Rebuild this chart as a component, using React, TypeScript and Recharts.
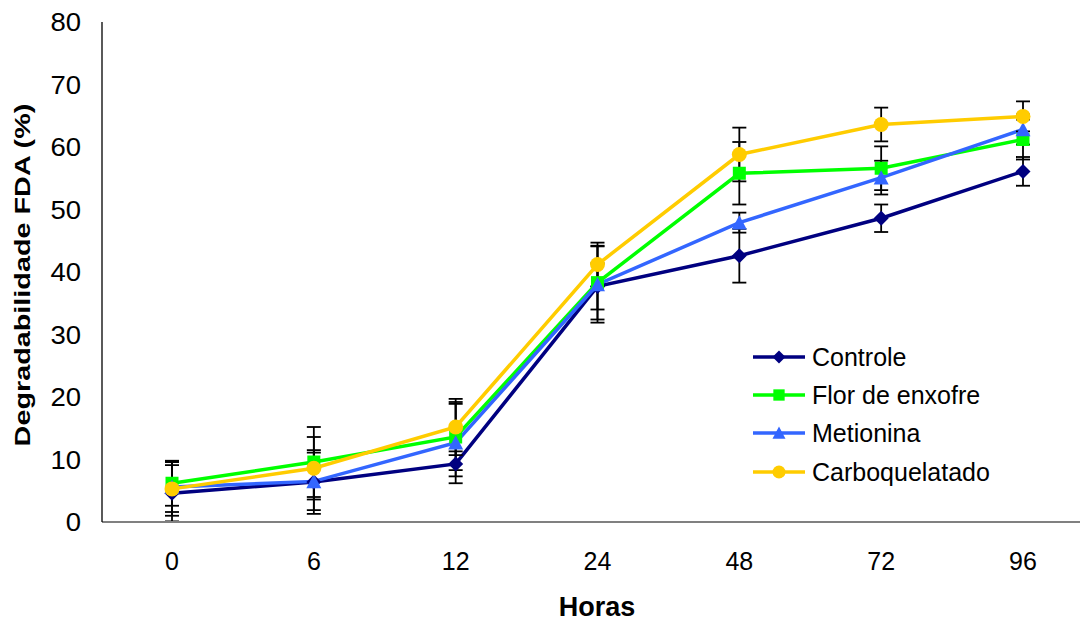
import React from 'react';
import { LineChart, Line, XAxis, YAxis, ErrorBar, Legend } from 'recharts';

const hours = ['0', '6', '12', '24', '48', '72', '96'];

const controle = [4.6, 6.4, 9.3, 37.7, 42.6, 48.6, 56.1];
const controleErr = [4.5, 5.1, 2.0, 3.7, 4.3, 2.2, 2.3];

const florEnxofre = [6.2, 9.6, 13.6, 38.3, 55.8, 56.6, 61.2];
const florEnxofreErr = [3.6, 5.6, 5.3, 5.9, 5.0, 3.5, 3.2];

const metionina = [5.6, 6.5, 12.7, 38.0, 47.9, 55.1, 62.8];
const metioninaErr = [4.0, 4.6, 6.5, 6.1, 1.6, 2.7, 2.4];

const carboquelatado = [5.3, 8.6, 15.2, 41.2, 58.8, 63.6, 64.9];
const carboquelatadoErr = [4.3, 5.0, 4.5, 3.5, 4.3, 2.7, 2.4];

const yTicks = [0, 10, 20, 30, 40, 50, 60, 70, 80];

const series = [
  { key: 'controle', name: 'Controle', color: '#000080', shape: 'diamond' },
  { key: 'flor', name: 'Flor de enxofre', color: '#00FF00', shape: 'square' },
  { key: 'met', name: 'Metionina', color: '#3366FF', shape: 'triangle' },
  { key: 'carbo', name: 'Carboquelatado', color: '#FFCC00', shape: 'circle' },
];

const data = hours.map((h, i) => ({
  hora: h,
  controle: controle[i],
  controleErr: controleErr[i],
  flor: florEnxofre[i],
  florErr: florEnxofreErr[i],
  met: metionina[i],
  metErr: metioninaErr[i],
  carbo: carboquelatado[i],
  carboErr: carboquelatadoErr[i],
}));

const FONT = '"Liberation Sans", Arial, Helvetica, sans-serif';

function Marker({ shape, cx, cy, color, k = 1 }: any) {
  if (cx == null || cy == null) return null;
  if (shape === 'diamond') {
    const w = 7.5 * k, h = 7.5 * k;
    return <polygon points={`${cx},${cy - h} ${cx + w},${cy} ${cx},${cy + h} ${cx - w},${cy}`} fill={color} />;
  }
  if (shape === 'square') {
    const s = 6.5 * k;
    return <rect x={cx - s} y={cy - s} width={2 * s} height={2 * s} fill={color} />;
  }
  if (shape === 'triangle') {
    const w = 7.5 * k, h = 7.5 * k;
    return <polygon points={`${cx},${cy - h} ${cx + w},${cy + h * 0.9} ${cx - w},${cy + h * 0.9}`} fill={color} />;
  }
  return <circle cx={cx} cy={cy} r={7.5 * k} fill={color} />;
}

function LegendBox() {
  const rowY = [22, 60, 98, 137];
  return (
    <div style={{ position: 'relative', width: 0, height: 0, overflow: 'visible' }}>
      <svg width={320} height={165} style={{ position: 'absolute', left: 0, top: 0, overflow: 'visible' }}>
        {series.map((s, i) => (
          <g key={s.key}>
            <line x1={8} x2={60} y1={rowY[i]} y2={rowY[i]} stroke={s.color} strokeWidth={3.5} />
            <Marker shape={s.shape} cx={34} cy={rowY[i]} color={s.color} k={0.87} />
            <text x={67} y={rowY[i] + 9} fontSize={25} fontFamily={FONT} fill="#000">
              {s.name}
            </text>
          </g>
        ))}
      </svg>
    </div>
  );
}

function YTitle() {
  return (
    <text
      transform="translate(22.5,275) rotate(-90) scale(1.28,1)"
      textAnchor="middle"
      dy="0.35em"
      fontSize={22.5}
      fontWeight="bold"
      fontFamily={FONT}
      fill="#000"
    >
      Degradabilidade FDA (%)
    </text>
  );
}

function XTitle() {
  return (
    <text x={597} y={616} textAnchor="middle" fontSize={27} fontWeight="bold" fontFamily={FONT} fill="#000">
      Horas
    </text>
  );
}

export default function App() {
  return (
    <div style={{ position: 'absolute', left: 0, top: 0, width: 1080, height: 621, background: '#fff' }}>
      <LineChart width={1080} height={621} data={data} margin={{ top: 22, right: 0, bottom: 0, left: 0 }}>
        <XAxis
          dataKey="hora"
          type="category"
          scale="point"
          padding={{ left: 70, right: 57 }}
          height={99}
          interval={0}
          tickLine={false}
          axisLine={{ stroke: '#808080', strokeWidth: 2 }}
          tick={(p: any) => (
            <text x={p.x} y={570} textAnchor="middle" fontSize={25} fontFamily={FONT} fill="#000">
              {p.payload.value}
            </text>
          )}
          label={<XTitle />}
        />
        <YAxis
          type="number"
          domain={[0, 80]}
          ticks={yTicks}
          interval={0}
          width={102}
          tickLine={false}
          axisLine={{ stroke: '#000', strokeWidth: 1.3 }}
          tick={(p: any) => (
            <text
              transform={`translate(81,${p.y + 9}) scale(1.1,1)`}
              textAnchor="end"
              fontSize={25}
              fontFamily={FONT}
              fill="#000"
            >
              {p.payload.value}
            </text>
          )}
          label={<YTitle />}
        />
        {series.map((s) => (
          <Line
            key={s.key}
            type="linear"
            dataKey={s.key}
            name={s.name}
            stroke={s.color}
            strokeWidth={3.5}
            isAnimationActive={false}
            activeDot={false}
            dot={(p: any) => <Marker key={`${s.key}-${p.index}`} shape={s.shape} cx={p.cx} cy={p.cy} color={s.color} />}
          >
            <ErrorBar
              dataKey={`${s.key}Err`}
              direction="y"
              width={7}
              stroke="#000"
              strokeWidth={1.8}
              isAnimationActive={false}
            />
          </Line>
        ))}
        <Legend
          content={() => <LegendBox />}
          wrapperStyle={{ position: 'absolute', left: 745, top: 335, width: 0, height: 0 }}
        />
      </LineChart>
    </div>
  );
}
